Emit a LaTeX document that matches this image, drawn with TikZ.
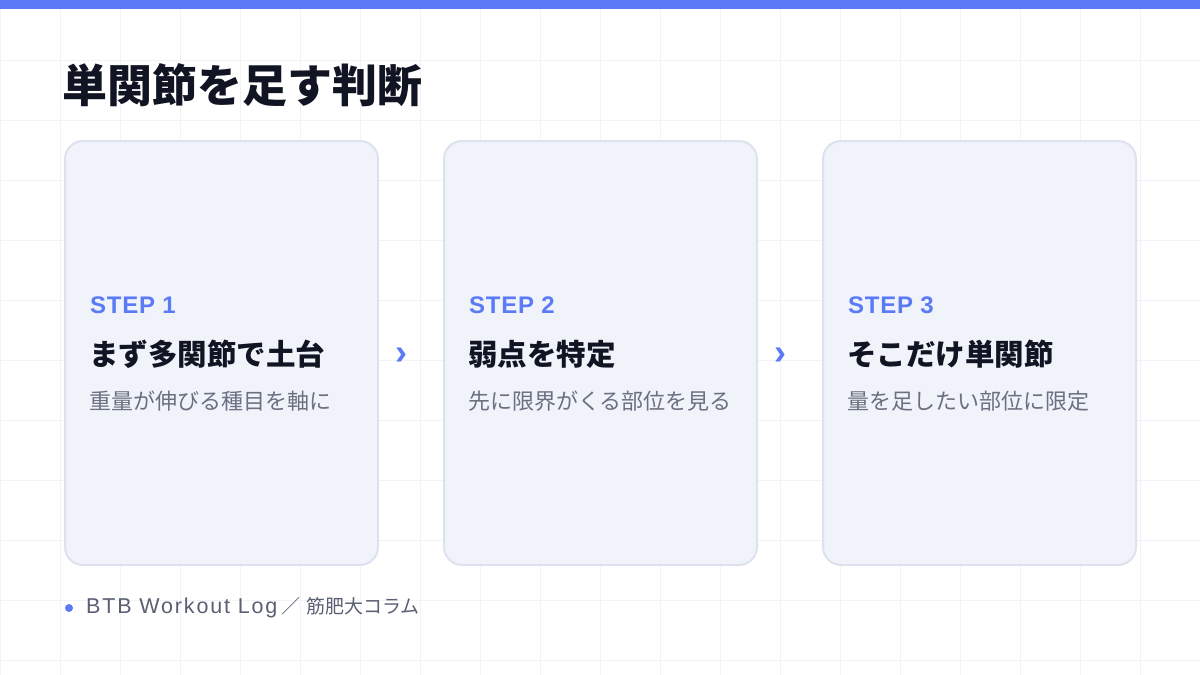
\documentclass[tikz,border=0pt]{standalone}
\usepackage{fontspec}
\setmainfont{Noto Sans CJK JP}
\newfontfamily\blackfont{Noto Sans CJK JP Black}
\newfontfamily\latinfont{Liberation Sans}
\newfontfamily\stepfont{Liberation Sans}[UprightFont={* Bold}, LetterSpace=3]
\usetikzlibrary{positioning}
\definecolor{accent}{HTML}{5B7BF6}
\definecolor{cardfill}{HTML}{F1F3FB}
\definecolor{cardline}{HTML}{DEE2EE}
\definecolor{gridcol}{HTML}{F2F3F6}
\definecolor{ink}{HTML}{111422}
\definecolor{subgray}{HTML}{6B7080}
\definecolor{footgray}{HTML}{5A6072}

\begin{document}
\begin{tikzpicture}[x=1pt, y=-1pt, node distance=64pt,
  card/.style={draw=cardline, line width=2pt, fill=cardfill, rounded corners=18pt,
    minimum width=313pt, minimum height=424pt, inner sep=0pt},
  steplabel/.style={anchor=west, inner sep=0pt, text=accent,
    font=\stepfont\fontsize{24}{28}\selectfont},
  headline/.style={anchor=west, inner sep=0pt, text=ink,
    font=\blackfont\fontsize{29.5}{34}\selectfont},
  subline/.style={anchor=west, inner sep=0pt, text=subgray,
    font=\fontsize{22}{26}\selectfont},
  chev/.style={inner sep=0pt, text=accent, font=\stepfont\fontsize{36}{36}\selectfont}]
\useasboundingbox (0,0) rectangle (1200,675);
\fill[white] (0,0) rectangle (1200,675);
\draw[gridcol, line width=1pt, step=60pt] (0,0) grid (1200,675);
\fill[accent] (0,0) rectangle (1200,9);

\node[anchor=west, inner sep=0pt, text=ink, font=\blackfont\fontsize{45}{50}\selectfont]
  (title) at (62,85) {単関節を足す判断};

\node[card] (s1) at (221.5,353) {};
\node[card, right=64pt of s1] (s2) {};
\node[card, right=64pt of s2] (s3) {};

\node[steplabel] (l1) at ([shift={(26,-48)}]s1.west) {STEP 1};
\node[headline]  (h1) at ([shift={(25,1)}]s1.west) {まず多関節で土台};
\node[subline]   (t1) at ([shift={(25,48)}]s1.west) {重量が伸びる種目を軸に};

\node[steplabel] (l2) at ([shift={(26,-48)}]s2.west) {STEP 2};
\node[headline]  (h2) at ([shift={(25,1)}]s2.west) {弱点を特定};
\node[subline]   (t2) at ([shift={(25,48)}]s2.west) {先に限界がくる部位を見る};

\node[steplabel] (l3) at ([shift={(26,-48)}]s3.west) {STEP 3};
\node[headline]  (h3) at ([shift={(25,1)}]s3.west) {そこだけ単関節};
\node[subline]   (t3) at ([shift={(25,48)}]s3.west) {量を足したい部位に限定};

\node[chev] (c1) at ([shift={(22,3)}]s1.east) {›};
\node[chev] (c2) at ([shift={(22,3)}]s2.east) {›};

\fill[accent] (69,608) circle (4);
\node[anchor=west, inner sep=0pt, text=footgray, font=\fontsize{19}{24}\selectfont]
  (foot) at (86,608) {{\latinfont\addfontfeatures{LetterSpace=8.5}\fontsize{21.5}{24}\selectfont BTB Workout Log}\hspace{4pt}／\hspace{6pt}筋肥大コラム};
\end{tikzpicture}
\end{document}
